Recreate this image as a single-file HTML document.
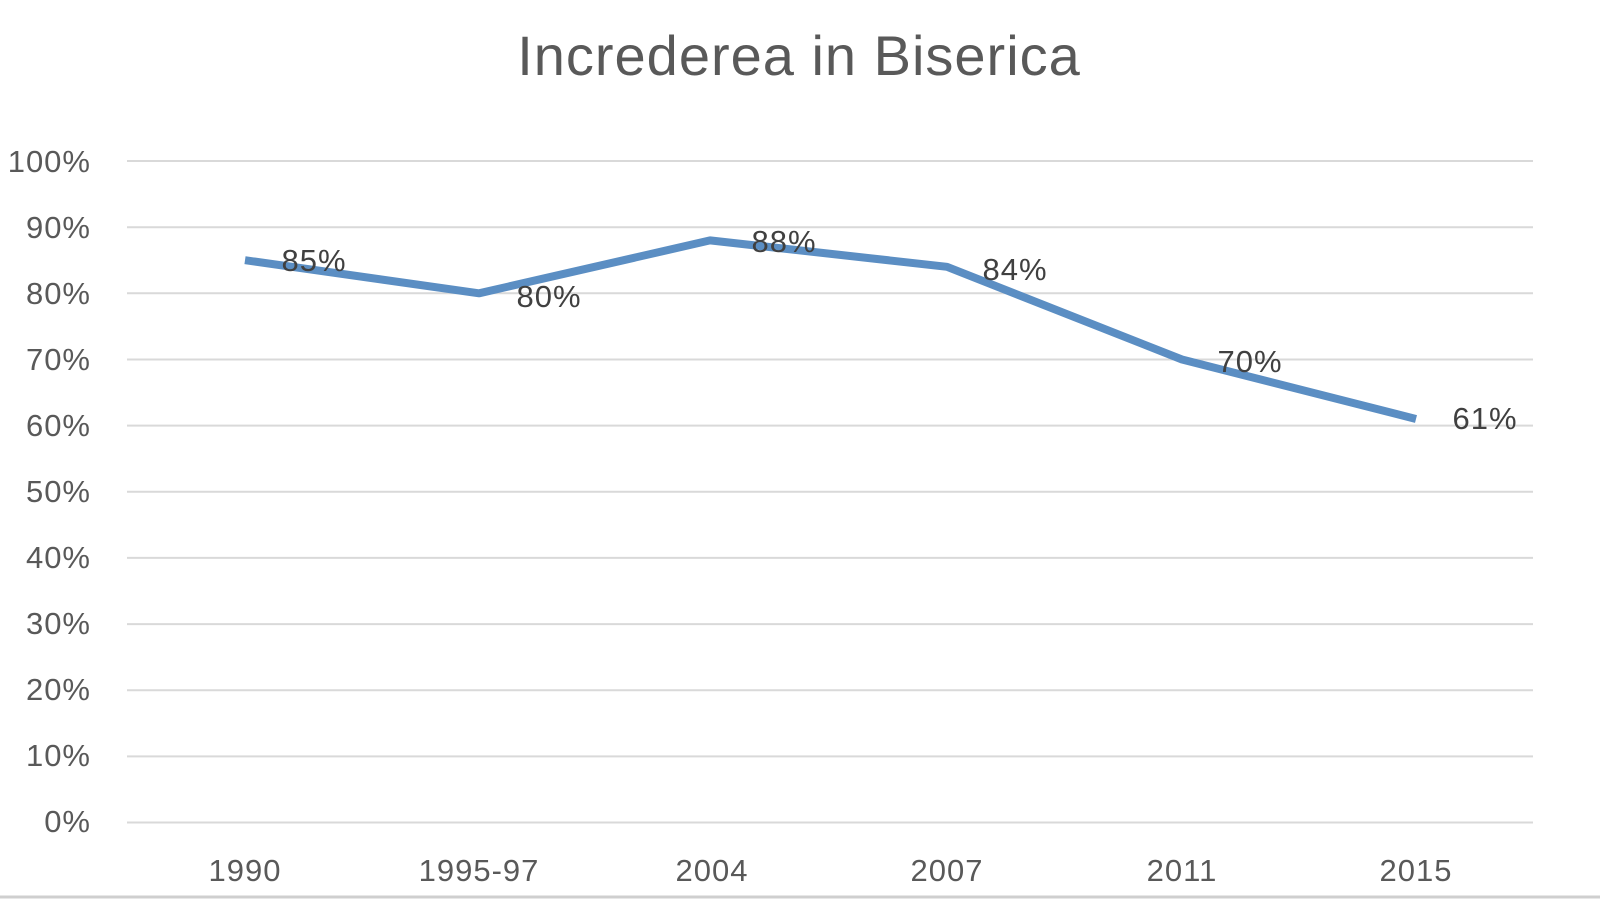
<!DOCTYPE html>
<html><head><meta charset="utf-8"><style>
html,body{margin:0;padding:0;background:#fff;}
svg{display:block;}
text{font-family:"Liberation Sans",sans-serif;}
</style></head><body>
<svg width="1600" height="900" viewBox="0 0 1600 900">
<rect width="1600" height="900" fill="#fff"/>
<text x="799" y="75" font-size="56" fill="#595959" text-anchor="middle" letter-spacing="1">Increderea in Biserica</text>
<g stroke="#d9d9d9" stroke-width="2">
<line x1="127" x2="1533" y1="161.0" y2="161.0"/>
<line x1="127" x2="1533" y1="227.2" y2="227.2"/>
<line x1="127" x2="1533" y1="293.3" y2="293.3"/>
<line x1="127" x2="1533" y1="359.5" y2="359.5"/>
<line x1="127" x2="1533" y1="425.6" y2="425.6"/>
<line x1="127" x2="1533" y1="491.8" y2="491.8"/>
<line x1="127" x2="1533" y1="557.9" y2="557.9"/>
<line x1="127" x2="1533" y1="624.1" y2="624.1"/>
<line x1="127" x2="1533" y1="690.2" y2="690.2"/>
<line x1="127" x2="1533" y1="756.4" y2="756.4"/>
<line x1="127" x2="1533" y1="822.5" y2="822.5"/>
</g>
<line x1="0" x2="1600" y1="897" y2="897" stroke="#cfcfcf" stroke-width="3"/>
<g font-size="31" fill="#595959" text-anchor="end" letter-spacing="1">
<text x="91" y="172">100%</text>
<text x="91" y="238">90%</text>
<text x="91" y="304">80%</text>
<text x="91" y="370">70%</text>
<text x="91" y="436">60%</text>
<text x="91" y="502">50%</text>
<text x="91" y="568">40%</text>
<text x="91" y="634">30%</text>
<text x="91" y="700">20%</text>
<text x="91" y="766">10%</text>
<text x="91" y="832">0%</text>
</g>
<g font-size="31" fill="#595959" text-anchor="middle" letter-spacing="1">
<text x="245" y="881">1990</text>
<text x="479" y="881">1995-97</text>
<text x="712" y="881">2004</text>
<text x="947" y="881">2007</text>
<text x="1182" y="881">2011</text>
<text x="1416" y="881">2015</text>
</g>
<polyline fill="none" stroke="#5b8ec3" stroke-width="8" stroke-linejoin="round" points="245,260.2 479,293.3 710,240.4 947,266.8 1182,359.5 1416,419.0"/>
<g font-size="31" fill="#404040" text-anchor="middle" letter-spacing="1">
<text x="314" y="271">85%</text>
<text x="549" y="307">80%</text>
<text x="784" y="252">88%</text>
<text x="1015" y="280">84%</text>
<text x="1250" y="372">70%</text>
<text x="1485" y="429">61%</text>
</g>
</svg>
</body></html>
